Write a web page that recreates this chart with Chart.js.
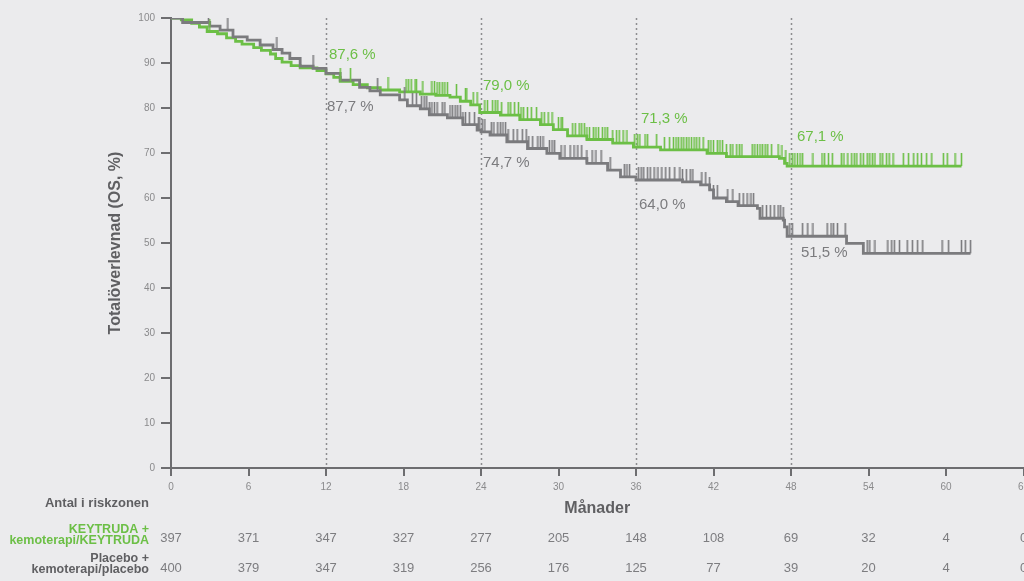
<!DOCTYPE html>
<html>
<head>
<meta charset="utf-8">
<script src="https://cdn.jsdelivr.net/npm/chart.js@4"></script>
<style>
  html, body { margin: 0; padding: 0; overflow: hidden; background: #ebebed; }
  #wrap { width: 1040px; height: 581px; }
</style>
</head>
<body>
<div id="wrap"><canvas id="chartOS" width="1040" height="581"></canvas></div>
<script>
// KM-kurvor (månader, OS %)
const keytrudaTider = [0, 0.8, 1.6, 2.2, 2.8, 3.6, 4.3, 5.0, 5.5, 6.4, 7.0, 7.7, 8.1, 8.6, 9.3, 10, 11.3, 12, 12.6, 13.1, 14.1, 15.2, 16.2, 17.7, 19.3, 20.5, 21.6, 22.4, 23.2, 23.9, 25.5, 27, 28.6, 29.6, 30.7, 32.2, 34.2, 35.8, 37.9, 41.5, 43, 47.1, 47.5, 47.7, 61.2]
const keytrudaOS = [100, 99.6, 98.8, 98, 97, 96.5, 95.6, 94.8, 94.2, 93.4, 92.8, 92, 91, 90.2, 89.4, 88.9, 88.3, 87.6, 86.8, 85.9, 85.2, 84.5, 84, 83.6, 83.1, 82.8, 82.4, 81.5, 80.7, 79.0, 78.4, 77.4, 76.3, 75.2, 73.8, 73, 72.2, 71.3, 70.7, 69.9, 69.2, 68.8, 67.7, 67.1, 67.1]

const placeboTider = [0, 0.9, 3, 3.8, 4.8, 5.9, 6.9, 7.9, 8.6, 9.2, 10, 11, 12, 13.1, 14.6, 15.4, 16.2, 17.7, 18.3, 19.3, 20, 21.4, 22.6, 23.7, 24, 24.7, 26, 27.6, 29.1, 30.1, 32.2, 33.8, 34.8, 36, 39.6, 41, 41.7, 42, 43, 43.9, 45.4, 45.6, 47.4, 47.5, 47.7, 52.3, 53.6, 61.9]
const placeboOS = [100, 99, 98.2, 97.3, 95.8, 95.1, 94, 93, 92.2, 91, 89.3, 88.8, 87.7, 86.2, 84.6, 83.8, 82.9, 81.8, 80.5, 79.8, 78.5, 77.8, 76.3, 75.1, 74.7, 74, 72.5, 71, 69.9, 68.8, 67.7, 66.2, 64.7, 64.0, 63.6, 62.9, 61.8, 60, 59.2, 58.3, 57.7, 55.5, 55.1, 53.6, 51.5, 49.9, 47.7, 47.7]

// censurerade (månader)
const keytrudaCensur = [3.0, 13.1, 13.9, 16.8, 18.2, 18.4, 18.6, 18.9, 19.0, 19.5, 20.2, 20.4, 20.6, 20.8, 21.0, 21.2, 21.4, 22.1, 22.8, 22.9, 23.4, 23.7, 24.3, 24.5, 24.9, 25.1, 25.3, 25.6, 26.1, 26.3, 26.6, 26.9, 27.1, 27.3, 27.6, 27.9, 28.3, 28.7, 28.9, 29.2, 29.5, 30.0, 30.2, 30.3, 31.1, 31.3, 31.6, 31.8, 32.0, 32.2, 32.4, 32.7, 32.9, 33.1, 33.4, 33.6, 33.8, 34.2, 34.5, 34.7, 35.0, 35.3, 35.9, 36.1, 36.3, 36.7, 36.9, 37.6, 38.2, 38.6, 38.9, 39.1, 39.3, 39.5, 39.7, 39.9, 40.1, 40.3, 40.5, 40.7, 40.9, 41.2, 41.6, 41.8, 42.0, 42.3, 42.5, 42.7, 43.0, 43.3, 43.5, 43.8, 44.0, 44.2, 45.0, 45.2, 45.4, 45.6, 45.8, 46.0, 46.2, 46.5, 47.0, 47.3, 47.6, 47.9, 48.1, 48.3, 48.5, 48.7, 48.9, 49.7, 50.4, 50.6, 50.9, 51.2, 51.9, 52.1, 52.4, 52.7, 52.9, 53.1, 53.4, 53.6, 53.9, 54.1, 54.3, 54.5, 54.9, 55.1, 55.4, 55.6, 55.9, 56.7, 57.1, 57.5, 57.8, 58.1, 58.5, 58.9, 59.8, 60.1, 60.7, 61.2]
const placeboCensur = [2.9, 4.4, 8.2, 11.0, 16.0, 18.1, 18.7, 19.0, 19.4, 19.6, 19.8, 20.0, 20.2, 20.4, 20.6, 21.0, 21.2, 21.6, 21.8, 22.0, 22.2, 22.4, 22.6, 22.8, 23.1, 23.5, 23.8, 23.9, 24.1, 24.3, 24.8, 25.0, 25.3, 25.5, 25.7, 25.9, 26.1, 26.5, 26.8, 27.2, 27.5, 27.7, 28.0, 28.4, 28.6, 28.8, 29.3, 29.5, 29.7, 30.2, 30.5, 30.9, 31.2, 31.5, 31.8, 32.2, 32.6, 32.9, 33.3, 34.0, 35.1, 35.3, 35.5, 36.2, 36.4, 36.6, 36.9, 37.1, 37.4, 37.7, 38.0, 38.3, 38.6, 39.0, 39.4, 39.6, 39.9, 40.2, 40.4, 41.1, 41.4, 41.7, 42.0, 42.3, 43.1, 43.5, 44.0, 44.3, 44.6, 44.9, 45.1, 45.8, 46.1, 46.4, 46.7, 47.0, 47.2, 47.4, 47.9, 48.1, 48.9, 49.3, 49.7, 50.8, 51.1, 51.3, 51.6, 52.2, 53.9, 54.1, 54.5, 55.5, 55.8, 56.0, 56.4, 57.0, 57.4, 57.8, 58.2, 59.7, 60.2, 61.2, 61.5, 61.9]

// antal i riskzonen
const riskManader = [0, 6, 12, 18, 24, 30, 36, 42, 48, 54, 60, 66]
const riskKeytruda = [397, 371, 347, 327, 277, 205, 148, 108, 69, 32, 4, 0]
const riskPlacebo = [400, 379, 347, 319, 256, 176, 125, 77, 39, 20, 4, 0]

const markeradeManader = [12, 24, 36, 48]
const etiketterKeytruda = ['87,6 %', '79,0 %', '71,3 %', '67,1 %']
const etiketterPlacebo = ['87,7 %', '74,7 %', '64,0 %', '51,5 %']

const GRON = '#6cbf46'
const GRA = '#7b7b7e'
const AXEL = '#6d6d70'
const TEXT = '#8a8a8c'
const FONT = '"Liberation Sans", Arial, sans-serif'

// textplacering (pixlar relativt markerad månad, y i axelenheter)
const etikettPosKeytruda = [[3, 91.8], [2, 84.9], [5, 77.5], [6, 73.6]]
const etikettPosPlacebo = [[1, 80.2], [2, 67.7], [3, 58.4], [10, 47.7]]

function punkter(tider, os) {
    let lista = []
    for (let i = 0; i < tider.length; i++) {
        lista.push({ x: tider[i], y: os[i] })
    }
    return lista
}

function varde(tider, os, t) {
    let v = os[0]
    for (let i = 0; i < tider.length; i++) {
        if (tider[i] <= t) v = os[i]
    }
    return v
}

function censurPunkter(censur, tider, os) {
    return censur.map(t => ({ x: t, y: varde(tider, os, t) }))
}

function censurStreck(farg) {
    const c = document.createElement('canvas')
    c.width = 3
    c.height = 26
    const g = c.getContext('2d')
    g.strokeStyle = farg
    g.lineWidth = 1.6
    g.beginPath()
    g.moveTo(1.5, 0)
    g.lineTo(1.5, 13)
    g.stroke()
    return c
}

const streckade = {
    id: 'streckade',
    beforeDatasetsDraw(chart) {
        const { ctx, chartArea, scales } = chart
        ctx.save()
        ctx.strokeStyle = '#8d8d90'
        ctx.lineWidth = 1.5
        ctx.setLineDash([2, 3])
        markeradeManader.forEach(m => {
            const x = Math.round(scales.x.getPixelForValue(m)) + 0.5
            ctx.beginPath()
            ctx.moveTo(x, chartArea.top)
            ctx.lineTo(x, chartArea.bottom)
            ctx.stroke()
        })
        ctx.restore()
    }
}

const etiketter = {
    id: 'etiketter',
    afterDatasetsDraw(chart) {
        const { ctx, scales } = chart
        ctx.save()
        ctx.font = '15px ' + FONT
        ctx.textAlign = 'left'
        ctx.textBaseline = 'middle'
        markeradeManader.forEach((m, i) => {
            const x = scales.x.getPixelForValue(m)
            ctx.fillStyle = GRON
            ctx.fillText(etiketterKeytruda[i], x + etikettPosKeytruda[i][0], scales.y.getPixelForValue(etikettPosKeytruda[i][1]))
            ctx.fillStyle = GRA
            ctx.fillText(etiketterPlacebo[i], x + etikettPosPlacebo[i][0], scales.y.getPixelForValue(etikettPosPlacebo[i][1]))
        })
        ctx.restore()
    }
}

const risktabell = {
    id: 'risktabell',
    afterDraw(chart) {
        const { ctx, scales } = chart
        const hoger = 149
        ctx.save()
        ctx.textAlign = 'right'
        ctx.textBaseline = 'middle'
        ctx.font = 'bold 13px ' + FONT
        ctx.fillStyle = '#5f5f62'
        ctx.fillText('Antal i riskzonen', hoger, 503)

        ctx.font = 'bold 12.5px ' + FONT
        ctx.fillStyle = GRON
        ctx.fillText('KEYTRUDA +', hoger, 530)
        ctx.fillText('kemoterapi/KEYTRUDA', hoger, 541)
        ctx.fillStyle = '#5f5f62'
        ctx.fillText('Placebo +', hoger, 559)
        ctx.fillText('kemoterapi/placebo', hoger, 570)

        ctx.font = '13px ' + FONT
        ctx.fillStyle = '#7d7d80'
        ctx.textAlign = 'center'
        riskManader.forEach((m, i) => {
            const x = scales.x.getPixelForValue(m)
            ctx.fillText(riskKeytruda[i], x, 538)
            ctx.fillText(riskPlacebo[i], x, 568)
        })
        ctx.restore()
    }
}

const chartOS = document.getElementById('chartOS')

var graficoOS = new Chart(chartOS, {
    type: 'line',
    data: {
        datasets: [
            {
                label: 'Placebo + kemoterapi/placebo',
                data: punkter(placeboTider, placeboOS),
                borderColor: GRA,
                borderWidth: 2.8,
                stepped: 'before',
                pointRadius: 0,
                fill: false,
                order: 1
            },
            {
                label: 'KEYTRUDA + kemoterapi/KEYTRUDA',
                data: punkter(keytrudaTider, keytrudaOS),
                borderColor: GRON,
                borderWidth: 2.8,
                stepped: 'before',
                pointRadius: 0,
                fill: false,
                order: 2
            },
            {
                label: 'censur placebo',
                data: censurPunkter(placeboCensur, placeboTider, placeboOS),
                showLine: false,
                pointStyle: censurStreck(GRA),
                pointRadius: 3,
                order: 0
            },
            {
                label: 'censur keytruda',
                data: censurPunkter(keytrudaCensur, keytrudaTider, keytrudaOS),
                showLine: false,
                pointStyle: censurStreck(GRON),
                pointRadius: 3,
                order: 0
            }
        ]
    },
    options: {
        responsive: false,
        animation: false,
        devicePixelRatio: 1,
        layout: {
            padding: { left: 100, top: 18, right: 16.5, bottom: 63 }
        },
        scales: {
            x: {
                type: 'linear',
                min: 0,
                max: 66,
                afterFit: function (scale) { scale.height = 50 },
                border: { display: true, color: AXEL, width: 2 },
                grid: { drawOnChartArea: false, drawTicks: true, tickLength: 8, color: AXEL, lineWidth: 2 },
                ticks: {
                    stepSize: 6,
                    autoSkip: false,
                    maxRotation: 0,
                    padding: 5,
                    color: TEXT,
                    font: { family: FONT, size: 10 }
                },
                title: {
                    display: true,
                    text: 'Månader',
                    color: '#5f5f62',
                    padding: { top: 0, bottom: 0 },
                    font: { family: FONT, size: 16, weight: 'bold' }
                }
            },
            y: {
                min: 0,
                max: 100,
                afterFit: function (scale) { scale.width = 71 },
                border: { display: true, color: AXEL, width: 2 },
                grid: { drawOnChartArea: false, drawTicks: true, tickLength: 10, color: AXEL, lineWidth: 2 },
                ticks: {
                    stepSize: 10,
                    padding: 6,
                    color: TEXT,
                    font: { family: FONT, size: 10 }
                },
                title: {
                    display: true,
                    text: 'Totalöverlevnad (OS, %)',
                    color: '#5f5f62',
                    padding: { top: 6, bottom: 0 },
                    font: { family: FONT, size: 16, weight: 'bold' }
                }
            }
        },
        plugins: {
            legend: { display: false },
            tooltip: { enabled: false }
        },
        hover: false
    },
    plugins: [streckade, etiketter, risktabell]
});
</script>
</body>
</html>
